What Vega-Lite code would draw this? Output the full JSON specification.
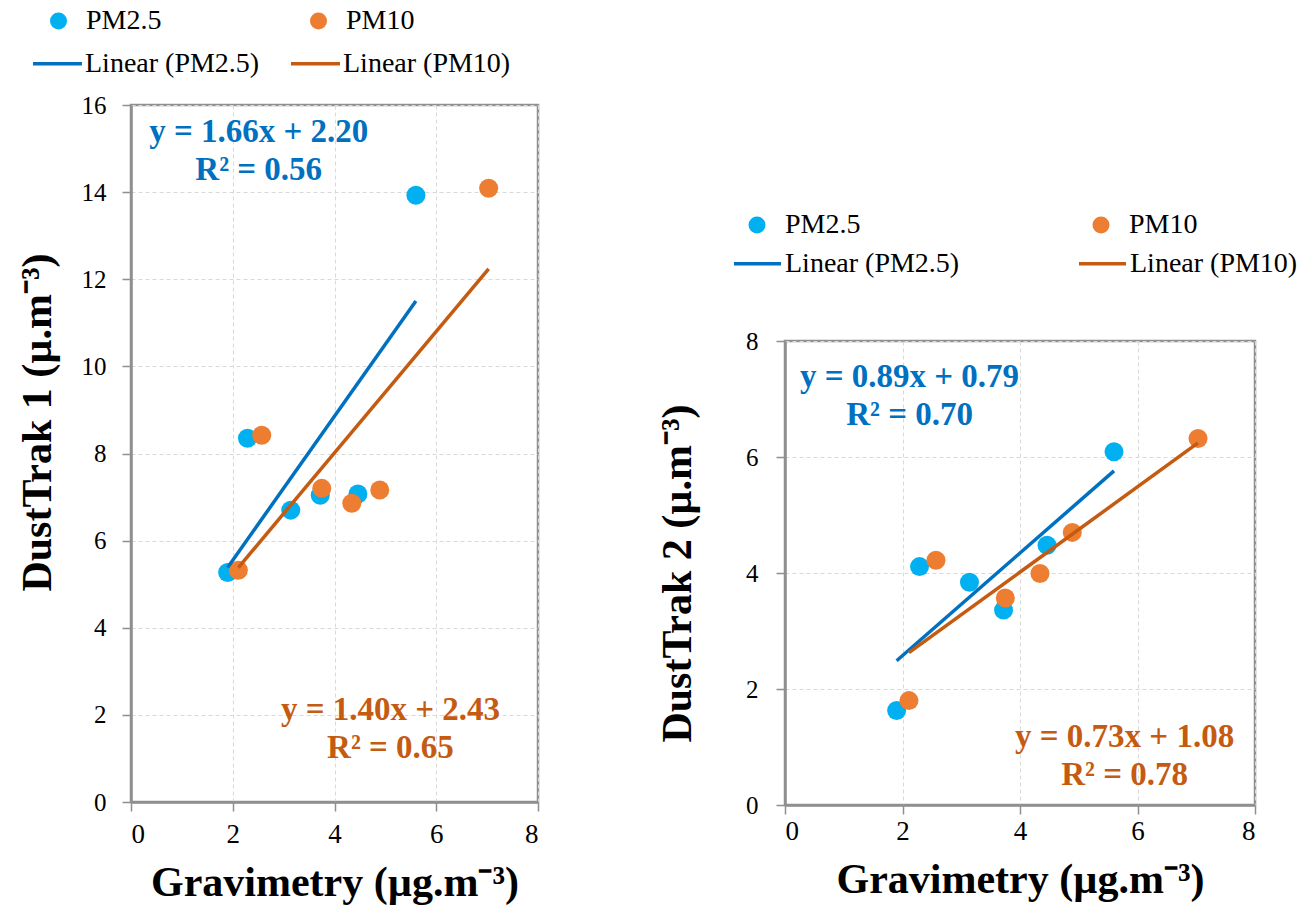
{
  "$schema": "https://vega.github.io/schema/vega-lite/v6.json",
  "background": "white",
  "padding": {"left": 14, "top": 5, "right": 0, "bottom": 0},
  "config": {
    "font": "Liberation Serif, Times New Roman, serif",
    "view": {"stroke": "#8f8f8f", "strokeWidth": 2.5},
    "axis": {
      "labelFont": "Liberation Serif, Times New Roman, serif", "labelFontSize": 25, "labelColor": "black",
      "titleFont": "Liberation Serif, Times New Roman, serif", "titleFontWeight": "bold", "titleColor": "black", "titleFontSize": 42,
      "domainColor": "#8f8f8f", "domainWidth": 2.5,
      "tickColor": "#8f8f8f", "tickSize": 9, "tickWidth": 1.5,
      "gridColor": "#d9d9d9", "gridDash": [4, 3], "gridWidth": 1
    },
    "axisX": {"labelFontSize": 27},
    "legend": {"labelFont": "Liberation Serif, Times New Roman, serif", "labelFontSize": 28, "labelColor": "black", "labelLimit": 400, "padding": 0}
  },
  "datasets": {
    "pts": [
      {"panel": "DustTrak 1", "series": "PM2.5", "trend": "Linear (PM2.5)", "grav": 1.90, "dust": 5.27},
      {"panel": "DustTrak 1", "series": "PM2.5", "trend": "Linear (PM2.5)", "grav": 2.29, "dust": 8.35},
      {"panel": "DustTrak 1", "series": "PM2.5", "trend": "Linear (PM2.5)", "grav": 3.14, "dust": 6.70},
      {"panel": "DustTrak 1", "series": "PM2.5", "trend": "Linear (PM2.5)", "grav": 3.72, "dust": 7.04},
      {"panel": "DustTrak 1", "series": "PM2.5", "trend": "Linear (PM2.5)", "grav": 4.46, "dust": 7.07},
      {"panel": "DustTrak 1", "series": "PM2.5", "trend": "Linear (PM2.5)", "grav": 5.60, "dust": 13.93},
      {"panel": "DustTrak 1", "series": "PM10", "trend": "Linear (PM10)", "grav": 2.11, "dust": 5.32},
      {"panel": "DustTrak 1", "series": "PM10", "trend": "Linear (PM10)", "grav": 2.57, "dust": 8.42},
      {"panel": "DustTrak 1", "series": "PM10", "trend": "Linear (PM10)", "grav": 3.75, "dust": 7.20},
      {"panel": "DustTrak 1", "series": "PM10", "trend": "Linear (PM10)", "grav": 4.34, "dust": 6.86},
      {"panel": "DustTrak 1", "series": "PM10", "trend": "Linear (PM10)", "grav": 4.89, "dust": 7.16},
      {"panel": "DustTrak 1", "series": "PM10", "trend": "Linear (PM10)", "grav": 7.03, "dust": 14.09},
      {"panel": "DustTrak 2", "series": "PM2.5", "trend": "Linear (PM2.5)", "grav": 1.90, "dust": 1.63},
      {"panel": "DustTrak 2", "series": "PM2.5", "trend": "Linear (PM2.5)", "grav": 2.29, "dust": 4.11},
      {"panel": "DustTrak 2", "series": "PM2.5", "trend": "Linear (PM2.5)", "grav": 3.14, "dust": 3.84},
      {"panel": "DustTrak 2", "series": "PM2.5", "trend": "Linear (PM2.5)", "grav": 3.72, "dust": 3.36},
      {"panel": "DustTrak 2", "series": "PM2.5", "trend": "Linear (PM2.5)", "grav": 4.46, "dust": 4.48},
      {"panel": "DustTrak 2", "series": "PM2.5", "trend": "Linear (PM2.5)", "grav": 5.60, "dust": 6.09},
      {"panel": "DustTrak 2", "series": "PM10", "trend": "Linear (PM10)", "grav": 2.11, "dust": 1.80},
      {"panel": "DustTrak 2", "series": "PM10", "trend": "Linear (PM10)", "grav": 2.57, "dust": 4.22},
      {"panel": "DustTrak 2", "series": "PM10", "trend": "Linear (PM10)", "grav": 3.75, "dust": 3.57},
      {"panel": "DustTrak 2", "series": "PM10", "trend": "Linear (PM10)", "grav": 4.34, "dust": 3.99},
      {"panel": "DustTrak 2", "series": "PM10", "trend": "Linear (PM10)", "grav": 4.89, "dust": 4.70},
      {"panel": "DustTrak 2", "series": "PM10", "trend": "Linear (PM10)", "grav": 7.03, "dust": 6.32}
    ]
  },
  "spacing": 115,
  "resolve": {
    "scale": {"color": "independent", "stroke": "independent"},
    "legend": {"color": "independent", "stroke": "independent"}
  },
  "hconcat": [
    {
      "width": 407,
      "height": 697,
      "layer": [
        {
          "data": {"name": "pts"},
          "transform": [{"filter": "datum.panel == 'DustTrak 1'"}],
          "mark": {"type": "circle", "size": 361, "opacity": 1},
          "encoding": {
            "x": {"field": "grav", "type": "quantitative",
                  "scale": {"domain": [0, 8], "nice": false},
                  "axis": {"values": [0, 2, 4, 6, 8], "format": "d", "title": "Gravimetry (µg.m⁻³)", "labelPadding": 10, "titlePadding": 15}},
            "y": {"field": "dust", "type": "quantitative",
                  "scale": {"domain": [0, 16], "nice": false},
                  "axis": {"values": [0, 2, 4, 6, 8, 10, 12, 14, 16], "format": "d", "title": "DustTrak 1 (µ.m⁻³)", "labelPadding": 16, "titlePadding": 22, "titleY": 317}},
            "color": {"field": "series", "type": "nominal",
              "scale": {"domain": ["PM2.5", "PM10"], "range": ["#00B0F0", "#ED7D31"]},
              "legend": {
                "title": null, "orient": "none", "direction": "horizontal", "columns": 2,
                "legendX": -86.5, "legendY": -98, "columnPadding": 143,
                "labelOffset": 13.5, "symbolSize": 289, "symbolStrokeWidth": 0, "symbolOpacity": 1
              }
            }
          }
        },
        {
          "data": {"name": "pts"},
          "transform": [{"filter": "datum.panel == 'DustTrak 1'"}, {"regression": "dust", "on": "grav", "groupby": ["trend"]}],
          "mark": {"type": "line", "strokeWidth": 3.5},
          "encoding": {
            "x": {"field": "grav", "type": "quantitative", "title": "Gravimetry (µg.m⁻³)"},
            "y": {"field": "dust", "type": "quantitative", "title": "DustTrak 1 (µ.m⁻³)"},
            "stroke": {"field": "trend", "type": "nominal",
              "scale": {"domain": ["Linear (PM2.5)", "Linear (PM10)"], "range": ["#0070C0", "#C55A11"]},
              "legend": {
                "title": null, "orient": "none", "direction": "horizontal", "columns": 2,
                "legendX": -100, "legendY": -68, "columnPadding": 24,
                "labelOffset": 1, "symbolType": "stroke", "symbolSize": 2401, "symbolStrokeWidth": 3.5
              }
            }
          }
        },
        {
          "data": {"values": [{"label": "y = 1.66x + 2.20\nR² = 0.56"}]},
          "mark": {"type": "text", "font": "Liberation Serif, Times New Roman, serif", "fontSize": 33, "fontWeight": "bold", "color": "#0070C0", "lineBreak": "\n", "lineHeight": 38, "align": "center", "baseline": "middle"},
          "encoding": {
            "x": {"datum": 2.51, "type": "quantitative", "title": "Gravimetry (µg.m⁻³)"},
            "y": {"datum": 15.39, "type": "quantitative", "title": "DustTrak 1 (µ.m⁻³)"},
            "text": {"field": "label", "type": "nominal"}
          }
        },
        {
          "data": {"values": [{"label": "y = 1.40x + 2.43\nR² = 0.65"}]},
          "mark": {"type": "text", "font": "Liberation Serif, Times New Roman, serif", "fontSize": 33, "fontWeight": "bold", "color": "#C55A11", "lineBreak": "\n", "lineHeight": 38, "align": "center", "baseline": "middle"},
          "encoding": {
            "x": {"datum": 5.10, "type": "quantitative", "title": "Gravimetry (µg.m⁻³)"},
            "y": {"datum": 2.11, "type": "quantitative", "title": "DustTrak 1 (µ.m⁻³)"},
            "text": {"field": "label", "type": "nominal"}
          }
        }
      ]
    },
    {
      "spacing": 0,
      "resolve": {
        "scale": {"color": "independent", "stroke": "independent"},
        "legend": {"color": "independent", "stroke": "independent"}
      },
      "vconcat": [
        {
          "width": 1,
          "height": 104,
          "data": {"values": [{"k": 1}]},
          "mark": {"type": "point"},
          "encoding": {"opacity": {"value": 0}},
          "view": {"stroke": "transparent", "strokeWidth": 0}
        },
        {
          "width": 470,
          "height": 464,
          "layer": [
            {
              "data": {"name": "pts"},
              "transform": [{"filter": "datum.panel == 'DustTrak 2'"}],
              "mark": {"type": "circle", "size": 361, "opacity": 1},
              "encoding": {
                "x": {"field": "grav", "type": "quantitative",
                      "scale": {"domain": [0, 8], "nice": false},
                      "axis": {"values": [0, 2, 4, 6, 8], "format": "d", "title": "Gravimetry (µg.m⁻³)", "labelPadding": 4, "titlePadding": 15}},
                "y": {"field": "dust", "type": "quantitative",
                      "scale": {"domain": [0, 8], "nice": false},
                      "axis": {"values": [0, 2, 4, 6, 8], "format": "d", "title": "DustTrak 2 (µ.m⁻³)", "labelPadding": 18, "titlePadding": 46}},
                "color": {"field": "series", "type": "nominal",
                  "scale": {"domain": ["PM2.5", "PM10"], "range": ["#00B0F0", "#ED7D31"]},
                  "legend": {
                    "title": null, "orient": "none", "direction": "horizontal", "columns": 2,
                    "legendX": -42, "legendY": -130, "columnPadding": 226,
                    "labelOffset": 14, "symbolSize": 289, "symbolStrokeWidth": 0, "symbolOpacity": 1
                  }
                }
              }
            },
            {
              "data": {"name": "pts"},
              "transform": [{"filter": "datum.panel == 'DustTrak 2'"}, {"regression": "dust", "on": "grav", "groupby": ["trend"]}],
              "mark": {"type": "line", "strokeWidth": 3.5},
              "encoding": {
                "x": {"field": "grav", "type": "quantitative", "title": "Gravimetry (µg.m⁻³)"},
                "y": {"field": "dust", "type": "quantitative", "title": "DustTrak 2 (µ.m⁻³)"},
                "stroke": {"field": "trend", "type": "nominal",
                  "scale": {"domain": ["Linear (PM2.5)", "Linear (PM10)"], "range": ["#0070C0", "#C55A11"]},
                  "legend": {
                    "title": null, "orient": "none", "direction": "horizontal", "columns": 2,
                    "legendX": -53, "legendY": -103, "columnPadding": 112,
                    "labelOffset": 2, "symbolType": "stroke", "symbolSize": 2209, "symbolStrokeWidth": 3.5
                  }
                }
              }
            },
            {
              "data": {"values": [{"label": "y = 0.89x + 0.79\nR² = 0.70"}]},
              "mark": {"type": "text", "font": "Liberation Serif, Times New Roman, serif", "fontSize": 33, "fontWeight": "bold", "color": "#0070C0", "lineBreak": "\n", "lineHeight": 38, "align": "center", "baseline": "middle"},
              "encoding": {
                "x": {"datum": 2.12, "type": "quantitative", "title": "Gravimetry (µg.m⁻³)"},
                "y": {"datum": 7.38, "type": "quantitative", "title": "DustTrak 2 (µ.m⁻³)"},
                "text": {"field": "label", "type": "nominal"}
              }
            },
            {
              "data": {"values": [{"label": "y = 0.73x + 1.08\nR² = 0.78"}]},
              "mark": {"type": "text", "font": "Liberation Serif, Times New Roman, serif", "fontSize": 33, "fontWeight": "bold", "color": "#C55A11", "lineBreak": "\n", "lineHeight": 38, "align": "center", "baseline": "middle"},
              "encoding": {
                "x": {"datum": 5.78, "type": "quantitative", "title": "Gravimetry (µg.m⁻³)"},
                "y": {"datum": 1.17, "type": "quantitative", "title": "DustTrak 2 (µ.m⁻³)"},
                "text": {"field": "label", "type": "nominal"}
              }
            }
          ]
        }
      ]
    }
  ]
}
